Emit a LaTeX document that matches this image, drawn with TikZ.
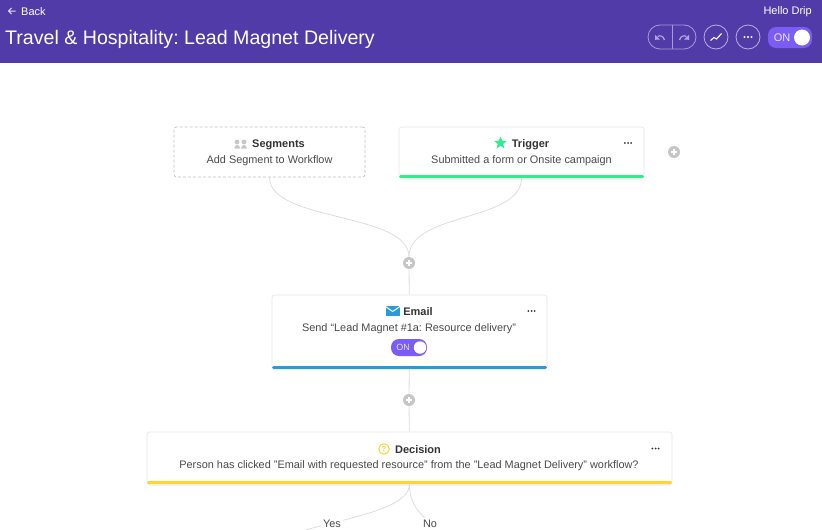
\documentclass[tikz,border=0pt]{standalone}
\usepackage{fontspec}
\setmainfont{Liberation Sans}
\frenchspacing
\usetikzlibrary{positioning,calc,backgrounds,shadows,shapes.geometric}
\definecolor{headbg}{HTML}{513BA8}
\definecolor{togglebg}{HTML}{7B5CF5}
\definecolor{linegray}{HTML}{DDDDDD}
\definecolor{plusgray}{HTML}{C6C6C6}
\definecolor{bodytext}{HTML}{4A4A4A}
\definecolor{titletext}{HTML}{333333}
\definecolor{triggergreen}{HTML}{2BEE8C}
\definecolor{emailblue}{HTML}{2A9BD8}
\definecolor{decisionyellow}{HTML}{FFD52E}
\tikzset{
	card/.style={draw=black!10, fill=white, rounded corners=2.5pt, inner sep=0pt, line width=.6pt,
		drop shadow={opacity=.12, shadow xshift=0pt, shadow yshift=-1.5pt}},
	emptycard/.style={draw=black!24, dash pattern=on 3pt off 2pt, fill=white, rounded corners=2.5pt, inner sep=0pt, line width=.7pt},
	cardtitle/.style={font=\fontsize{11}{14}\selectfont\bfseries, text=titletext, inner sep=0pt},
	cardtext/.style={font=\fontsize{10.9}{14}\selectfont, text=bodytext, inner sep=0pt},
	headtext/.style={font=\fontsize{11}{13}\selectfont, text=white, inner sep=0pt},
	link/.style={draw=linegray, line width=.8pt},
	bar/.style={line width=3pt, line cap=round},
	addbtn/.style={circle, fill=plusgray, minimum size=12pt, inner sep=0pt,
		path picture={\draw[white, line width=1.4pt] (path picture bounding box.center) +(-3.2,0) -- +(3.2,0) +(0,-3.2) -- +(0,3.2);}},
	roundbtn/.style={circle, draw=white!60!headbg, line width=.8pt, minimum size=24pt, inner sep=0pt},
	toggle/.style={rounded corners=8pt, fill=togglebg, inner sep=0pt},
	knob/.style={circle, fill=white, inner sep=0pt},
	answer/.style={font=\fontsize{10.9}{14}\selectfont, text=bodytext, fill=white, inner sep=2pt}
}
\begin{document}
\begin{tikzpicture}[x=1pt,y=-1pt]
		\clip (0,0) rectangle (822,530);
		\fill[headbg] (0,0) rectangle (822,63);
		
		\draw[white!85!headbg, line width=1pt] (15.5,11) -- (8.5,11) (11.5,8) -- (8.5,11) -- (11.5,14);
		\node[headtext, anchor=west] (back) at (21,12) {Back};
		\node[headtext, anchor=east] (hello) at (812,12) {Hello Drip};
		\node[anchor=west, inner sep=0pt, text=white, font=\fontsize{19.6}{24}\selectfont] (title) at (5,39.5) {Travel \& Hospitality: Lead Magnet Delivery};
		
		\draw[white!50!headbg, line width=.8pt, rounded corners=12pt] (648,25) rectangle (696,49);
		\draw[white!50!headbg, line width=.8pt] (672,25) -- (672,49);
		\draw[white!55!headbg, line width=1.2pt] (664.5,40) .. controls (663.5,36) and (660,35) .. (657.5,36.5);
		\fill[white!55!headbg] (655,35) -- (660,39.5) -- (655,39.8) -- cycle;
		\draw[white!55!headbg, line width=1.2pt] (679.5,40) .. controls (680.5,36) and (684,35) .. (686.5,36.5);
		\fill[white!55!headbg] (689,35) -- (684,39.5) -- (689,39.8) -- cycle;
		\node[roundbtn] (chart) at (716,37) {};
		\draw[white, line width=1.1pt] (710.5,40.5) -- (714,37.5) -- (716.5,39) -- (721.5,33.5);
		\node[roundbtn] (more) at (748,37) {};
		\foreach \x in {744.5,748,751.5}
			\fill[white] (\x,37) circle (1.1);
		
		\node[toggle, minimum width=44pt, minimum height=21pt] (headtoggle) at (790,37.5) {};
		\node[headtext, text=white!85!togglebg] (headon) at (782,37.5) {ON};
		\node[knob, minimum size=16pt] (headknob) at (802,37.5) {};
		
		\node[emptycard, minimum width=191pt, minimum height=50pt] (segments) at (269.5,152) {};
		\node[cardtitle] (segtitle) at (278.5,145) {Segments};
		\node[cardtext] (segtext) at (269.5,161) {Add Segment to Workflow};
		\fill[black!22] (237,142) circle (2.4) (244,142) circle (2.4);
		\fill[black!22] (234.5,148.5) .. controls (234,143.8) and (240,143.8) .. (240.2,148.5) -- cycle;
		\fill[black!22] (241,148.5) .. controls (241,143.8) and (247,143.8) .. (246.8,148.5) -- cycle;
		
		\node[card, minimum width=245pt, minimum height=51pt] (trigger) at (521.5,152.5) {};
		\draw[bar, triggergreen] (400.5,176.5) -- (642.5,176.5);
		\node[star, star points=5, star point ratio=2.3, fill=triggergreen, inner sep=0pt, minimum size=13pt] (triggericon) at (500.5,143) {};
		\node[cardtitle] (trigtitle) at (530.5,145) {Trigger};
		\node[cardtext] (trigtext) at (521.5,161) {Submitted a form or Onsite campaign};
		
		\node[addbtn] (addtop) at (409,263) {};
		\node[addbtn] (addside) at (674,152) {};
		
		\node[card, minimum width=275pt, minimum height=74pt] (email) at (409.5,332) {};
		\draw[bar, emailblue] (273.5,367.5) -- (545.5,367.5);
		\fill[emailblue] (386,305.5) rectangle (399.5,316);
		\draw[white, line width=1pt] (385.5,306.5) -- (392.7,311.5) -- (400,306.5);
		\node[cardtitle] (emailtitle) at (418,312) {Email};
		\node[cardtext] (emailtext) at (409,329) {Send “Lead Magnet \#1a: Resource delivery”};
		\node[toggle, minimum width=36pt, minimum height=17pt] (emailtoggle) at (409,347.5) {};
		\node[headtext, font=\fontsize{9}{11}\selectfont, text=white!80!togglebg] (emailon) at (403,347.5) {ON};
		\node[knob, minimum size=12.5pt] (emailknob) at (420,347.5) {};
		
		\node[addbtn] (addmid) at (409,400) {};
		
		\node[card, minimum width=525pt, minimum height=52pt] (decision) at (409.5,458) {};
		\draw[bar, decisionyellow] (148.5,482.5) -- (670.5,482.5);
		\node[circle, draw=decisionyellow, line width=1pt, minimum size=10.5pt, inner sep=0pt, font=\fontsize{7.5}{8}\selectfont\bfseries, text=decisionyellow] (decisionicon) at (384,449) {?};
		\node[cardtitle] (dectitle) at (418,450) {Decision};
		\node[cardtext] (dectext) at (409,466) {Person has clicked "Email with requested resource" from the "Lead Magnet Delivery" workflow?};
		
		\foreach \x/\y in {628/143,531.5/311,655.5/448.5} {
			\fill[titletext] (\x-3.2,\y) circle (1) (\x,\y) circle (1) (\x+3.2,\y) circle (1);
		}
		
		\node[answer] (yes) at (332,524) {Yes};
		\node[answer] (no) at (430,524) {No};
		\coordinate (yesend) at (255,562);
		\coordinate (noend) at (451,562);
		
		\begin{scope}[on background layer]
			\draw[link] (segments.south) .. controls (269.5,222) and (409,212) .. (addtop);
			\draw[link] (trigger.south) .. controls (521.5,222) and (409,212) .. (addtop);
			\draw[link] (addtop) -- (email);
			\draw[link] (email) -- (addmid);
			\draw[link] (addmid) -- (decision);
			\draw[link] (decision.south) .. controls (409,523) and (255,523) .. (yesend);
			\draw[link] (decision.south) .. controls (409,523) and (451,523) .. (noend);
		\end{scope}
	\end{tikzpicture}
\end{document}
